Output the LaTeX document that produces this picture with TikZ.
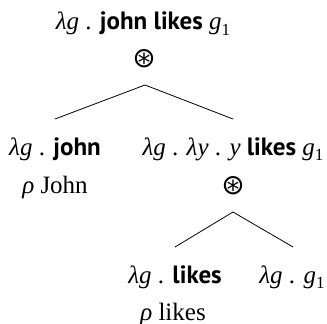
\documentclass[tikz,border=0pt]{standalone}
\usepackage{fontspec}
\setmainfont{Liberation Serif}
\newfontfamily\bsf{PT Sans}
\newfontfamily\symf{DejaVu Sans}
\newcommand{\bw}[1]{{\bsf\bfseries #1}}
\newcommand{\vi}[1]{\textit{#1}}
\newcommand{\gone}{\textit{g}\raisebox{-0.22em}{\fontsize{17}{18}\selectfont 1}}
\begin{document}
\begin{tikzpicture}[x=1pt,y=-1pt,
  lbl/.style={anchor=base,inner sep=0pt,font=\fontsize{25}{29}\selectfont},
  opn/.style={inner sep=0pt,font=\symf\fontsize{28}{32}\selectfont},
  edge/.style={draw=black,line width=0.8pt}]
\useasboundingbox (0,0) rectangle (327,324);
\node[lbl] (top) at (143,30) {\vi{λg} . \bw{john likes} \gone};
\node[opn] (op1) at (144,59) {⊛};
\node[lbl] (l) at (55,155) {\vi{λg} . \bw{john}};
\node[lbl] (lr) at (55,193) {\vi{ρ} John};
\node[lbl] (r) at (233,155) {\vi{λg} . \vi{λy} . \vi{y} \bw{likes} \gone};
\node[opn] (op2) at (233,186) {⊛};
\node[lbl] (ll) at (175,283) {\vi{λg} . \bw{likes}};
\node[lbl] (llr) at (173,320) {\vi{ρ} likes};
\node[lbl] (rr) at (292,283) {\vi{λg} . \gone};
\coordinate (a1) at (145,85);
\coordinate (a1l) at (55,119);
\coordinate (a1r) at (233,119);
\coordinate (a2) at (233,212);
\coordinate (a2l) at (175,247);
\coordinate (a2r) at (293,247);
\draw[edge] (a1l) -- (a1) -- (a1r);
\draw[edge] (a2l) -- (a2) -- (a2r);
\end{tikzpicture}
\end{document}
